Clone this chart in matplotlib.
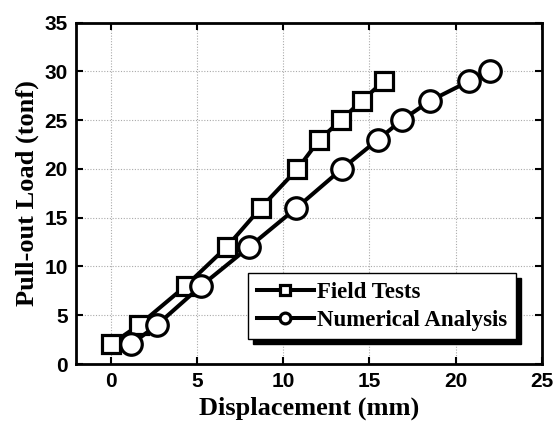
import matplotlib
matplotlib.use("Agg")
import matplotlib.pyplot as plt

field_x = [0, 1.66, 4.35, 6.73, 8.7, 10.83, 12.1, 13.35, 14.55, 15.84]
field_y = [2, 4, 8, 12, 16, 20, 23, 25, 27, 29]
num_x = [1.18, 2.69, 5.24, 8.03, 10.77, 13.4, 15.49, 16.87, 18.53, 20.77, 22.0]
num_y = [2, 4, 8, 12, 16, 20, 23, 25, 27, 29, 30]
xticks = [0, 5, 10, 15, 20, 25]
yticks = [0, 5, 10, 15, 20, 25, 30, 35]

fig = plt.figure(figsize=(5.57, 4.28), dpi=100)
ax = fig.add_axes([76/557, 1-364/428, (542-76)/557, (364-22.7)/428])

ax.plot(field_x, field_y, color='black', lw=2.9, marker='s', ms=13.5, mfc='white',
        mec='black', mew=2.3, label='Field Tests', zorder=3)
ax.plot(num_x, num_y, color='black', lw=2.9, marker='o', ms=15.5, mfc='white',
        mec='black', mew=2.3, label='Numerical Analysis', zorder=3)

ax.set_xlim(-2, 25)
ax.set_ylim(0, 35)
ax.set_xticks(xticks)
ax.set_yticks(yticks)
ax.grid(True, color='#aaaaaa', linestyle=(0, (1, 1.5)), linewidth=0.8)
ax.tick_params(direction='in', length=5, width=1.5, top=True, right=True, pad=6)
for lbl in ax.get_xticklabels() + ax.get_yticklabels():
    lbl.set_fontfamily('Liberation Sans')
    lbl.set_fontweight('bold')
    lbl.set_fontsize(15)
for s in ax.spines.values():
    s.set_linewidth(2.0)

ax.set_xlabel('Displacement (mm)', fontfamily='Liberation Serif', fontweight='bold', fontsize=19, labelpad=4)
ax.set_ylabel('Pull-out Load (tonf)', fontfamily='Liberation Serif', fontweight='bold', fontsize=19, labelpad=4)

leg = ax.legend(loc='upper left', bbox_to_anchor=(248/557, 1-273/428), bbox_transform=fig.transFigure,
                fancybox=False, shadow={'color': 'black', 'alpha': 1, 'ox': 3.5, 'oy': -3.5},
                prop={'family': 'Liberation Serif', 'weight': 'bold', 'size': 16.5},
                markerscale=0.5, handlelength=2.5, handletextpad=0.15, borderpad=0.38,
                labelspacing=0.3, borderaxespad=0, framealpha=1)
leg.get_frame().set_edgecolor('black')
leg.get_frame().set_linewidth(1.0)

fig.savefig('out.png', dpi=100)
